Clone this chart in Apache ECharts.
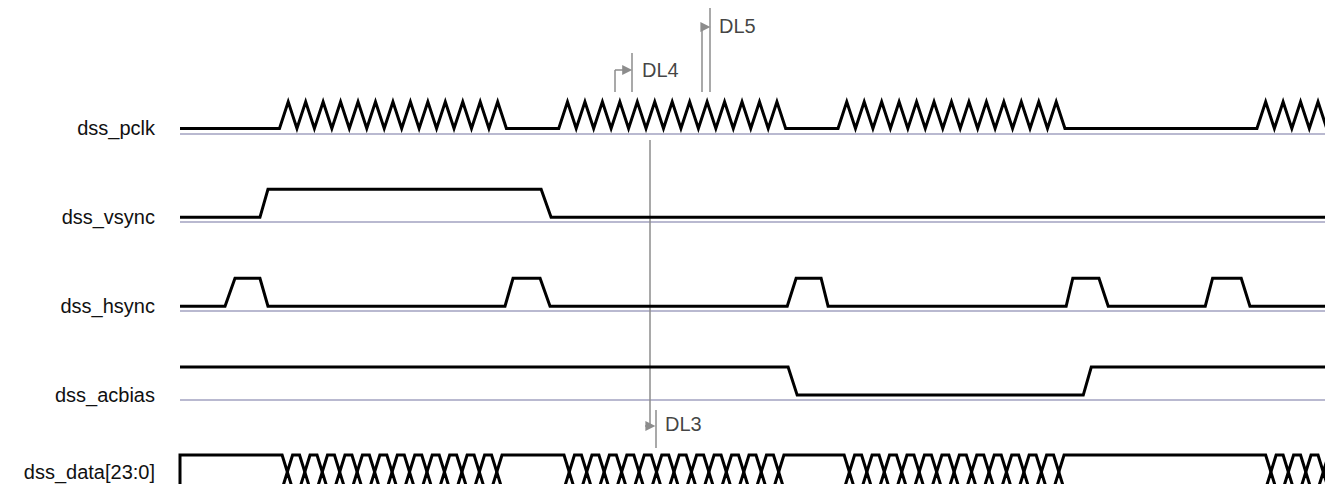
<!DOCTYPE html>
<html>
<head>
<meta charset="utf-8">
<title>dss timing</title>
<script src="https://cdn.jsdelivr.net/npm/echarts@6/dist/echarts.min.js"></script>
<style>
  html, body { margin: 0; padding: 0; background: #fff; }
  #chart { width: 1325px; height: 484px; }
</style>
</head>
<body>
<div id="chart"></div>
<script>
// time axis is in pixel-clock cycles, y axis in rows (0 = dss_pclk low level)
const signalNames = ['dss_pclk', 'dss_vsync', 'dss_hsync', 'dss_acbias', 'dss_data[23:0]']
const labelRows = [0, 1, 2, 3, 3.86]
const T_MAX = 65.6

// clock bursts: start of each burst, cycles per burst
const pclkBursts = [5.7, 21.7, 37.7, 61.7]
const pclkCycles = 13

// edges as [start, end] of each transition, level toggles at every edge
const vsyncEdges = [[4.58, 5.04], [20.69, 21.26]]
const hsyncEdges = [
  [2.58, 3.15], [4.58, 5.04],
  [18.62, 19.08], [20.63, 21.2],
  [34.79, 35.3], [36.73, 37.13],
  [50.77, 51.15], [52.65, 53.18],
  [58.74, 59.16], [60.8, 61.3]
]
const acbiasEdges = [[34.84, 35.36], [51.75, 52.21]]

// data bus: first crossing of each burst, crossings per burst
const dataCrossStart = [6.15, 22.3, 38.35, 62.5]
const dataCrossCount = 13
const busLevels = [3.674, 3.865, 4.056] // top, crossing, bottom

// timing annotations
const dlSegments = [
  [[24.92, -0.41], [24.92, -0.657]],
  [[25.9, -0.848], [25.9, -0.41]],
  [[29.91, -0.41], [29.91, -1.141]],
  [[30.37, -1.355], [30.37, -0.41]],
  [[26.93, 0.13], [26.93, 3.348]],
  [[27.27, 3.168], [27.27, 3.596]]
]
const dlArrows = [
  [[24.92, -0.657], [25.62, -0.657]],
  [[29.91, -1.141], [30.1, -1.141]],
  [[26.64, 3.348], [26.95, 3.348]]
]
const dlLabels = [
  ['DL4', 26.47, -0.657],
  ['DL5', 30.88, -1.152],
  ['DL3', 27.79, 3.33]
]

const HIGH = 0.315
const CLK_HIGH = 0.3
const BASE_OFFSET = 0.055

const clockPoints = () => {
  const pts = [[0, 0]]
  pclkBursts.forEach(s => {
    pts.push([s, 0])
    for (let k = 0; k < pclkCycles; k++) {
      pts.push([s + k + 0.5, -CLK_HIGH])
      pts.push([s + k + 1, 0])
    }
  })
  if (pts[pts.length - 1][0] < T_MAX) pts.push([T_MAX, 0])
  return pts
}

const edgePoints = (row, startHigh, edges) => {
  let high = startHigh
  const y = h => row - (h ? HIGH : 0)
  const pts = [[0, y(high)]]
  edges.forEach(([a, b]) => {
    pts.push([a, y(high)])
    high = !high
    pts.push([b, y(high)])
  })
  pts.push([T_MAX, y(high)])
  return pts
}

const busPoints = (edgeLevel) => {
  const [top, mid, bot] = busLevels
  const d = 0.3
  const pts = edgeLevel === top ? [[0, bot], [0, top]] : [[0, bot]]
  dataCrossStart.forEach(c0 => {
    for (let k = 0; k < dataCrossCount; k++) {
      const c = c0 + k
      pts.push([c - d, edgeLevel])
      pts.push([c, mid])
      pts.push([c + d, edgeLevel])
    }
  })
  if (pts[pts.length - 1][0] < T_MAX) pts.push([T_MAX, edgeLevel])
  return pts
}

const wave = (name, data, clip = true) => ({
  name,
  type: 'line',
  data,
  symbol: 'none',
  clip,
  silent: true,
  lineStyle: { color: '#000', width: 3, join: 'miter' }
})

const chart = echarts.init(document.getElementById('chart'), null, { renderer: 'svg' })

chart.setOption({
  animation: false,
  grid: { left: 180, right: 0, top: 4, bottom: 0, outerBoundsMode: 'none' },
  xAxis: {
    type: 'value',
    min: 0,
    max: T_MAX,
    show: false
  },
  yAxis: {
    type: 'value',
    inverse: true,
    min: -1.4,
    max: 4,
    axisLine: { show: false },
    axisTick: { show: false },
    splitLine: { show: false },
    axisLabel: {
      customValues: labelRows,
      margin: 25,
      color: '#111',
      fontSize: 20,
      fontFamily: '"Liberation Sans", Arial, sans-serif',
      formatter: v => {
        const i = labelRows.findIndex(r => Math.abs(r - v) < 1e-6)
        return i >= 0 ? signalNames[i] : ''
      }
    }
  },
  series: [
    {
      type: 'lines',
      coordinateSystem: 'cartesian2d',
      silent: true,
      lineStyle: { color: '#a2a2c0', width: 1.5, opacity: 1 },
      data: [0, 1, 2, 3].map(r => ({ coords: [[0, r + BASE_OFFSET], [T_MAX, r + BASE_OFFSET]] }))
    },
    wave('dss_pclk', clockPoints()),
    wave('dss_vsync', edgePoints(1, false, vsyncEdges)),
    wave('dss_hsync', edgePoints(2, false, hsyncEdges)),
    wave('dss_acbias', edgePoints(3, true, acbiasEdges)),
    wave('data_top', busPoints(busLevels[0]), false),
    wave('data_bottom', busPoints(busLevels[2]), false),
    {
      type: 'lines',
      coordinateSystem: 'cartesian2d',
      silent: true,
      lineStyle: { color: '#8c8c8c', width: 1.5, opacity: 1 },
      data: dlSegments.map(c => ({ coords: c }))
    },
    {
      type: 'lines',
      coordinateSystem: 'cartesian2d',
      silent: true,
      symbol: ['none', 'triangle'],
      symbolSize: 10,
      lineStyle: { color: '#8c8c8c', width: 1.5, opacity: 1 },
      data: dlArrows.map(c => ({ coords: c }))
    },
    {
      type: 'scatter',
      silent: true,
      symbolSize: 0,
      data: dlLabels.map(([n, t, v]) => ({ name: n, value: [t, v] })),
      label: {
        show: true,
        position: 'right',
        distance: 0,
        formatter: p => p.name,
        color: '#111',
        fontSize: 20,
        fontFamily: '"Liberation Sans", Arial, sans-serif'
      }
    }
  ]
})

window.addEventListener('resize', () => chart.resize())
</script>
</body>
</html>
